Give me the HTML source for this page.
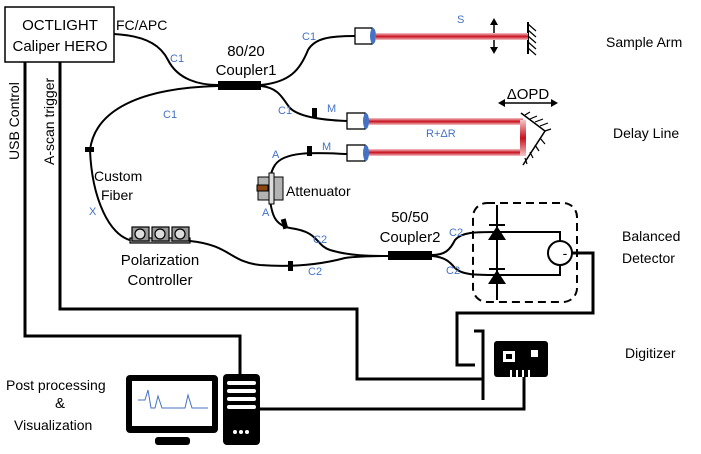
<!DOCTYPE html>
<html><head><meta charset="utf-8"><style>body{margin:0;background:#fff}svg{display:block;font-family:"Liberation Sans",sans-serif}</style></head><body>
<svg width="701" height="454" viewBox="0 0 701 454" xmlns="http://www.w3.org/2000/svg">
<defs>
<linearGradient id="beam" x1="0" y1="0" x2="0" y2="1"><stop offset="0" stop-color="#f4c7c9"/><stop offset="0.5" stop-color="#c8101e"/><stop offset="1" stop-color="#f4c7c9"/></linearGradient>
</defs>
<g fill="none" stroke="#000" stroke-width="2">
<rect x="5" y="7" width="109" height="55" stroke-width="1.5"/>
<polyline points="25,62 25,336 240,336 240,374" stroke-width="3"/>
<polyline points="60,62 60,309 357,309 357,379 483,379" stroke-width="3"/>
<polyline points="474,331 483,331 483,400" stroke-width="3"/>
<polyline points="524,377 524,409 260,409" stroke-width="3"/>
<polyline points="572,253 593,253 593,313 457,313 457,365 475,365" stroke-width="3"/>
<path d="M114,34 C150,36 162,48 168,60 C178,80 200,85 218,85"/>
<path d="M261,85 C290,82 300,70 308,50 C315,38 330,36 355,36"/>
<path d="M261,86 C280,88 283,100 290,108 C298,116 320,120 347,121"/>
<path d="M218,86 C140,88 95,110 90,150 C92,200 110,235 130,240"/>
<path d="M347,154 C320,153 285,150 275,165 C268,175 270,190 270,200 C272,215 275,225 290,228 C320,232 315,245 330,250 C350,256 370,256 388,256"/>
<path d="M190,241 C230,245 230,262 260,265 C300,268 330,262 345,258 C360,256 375,256 388,256"/>
<path d="M432,255 C445,255 450,250 455,240 C462,232 475,232 497,232"/>
<path d="M432,256 C445,257 450,262 455,268 C462,275 475,275 497,275"/>
<polyline points="497,232 560,232 560,275 497,275"/>
<line x1="497" y1="205" x2="497" y2="300"/>
<rect x="473" y="203" width="104" height="99" rx="14" stroke-dasharray="8,5"/>
<circle cx="560" cy="253" r="12" fill="#fff"/>
<line x1="528" y1="22" x2="528" y2="54"/>
<line x1="494" y1="22" x2="494" y2="50" stroke-width="1.5"/>
<polyline points="521,113 545,131 523,165" stroke-width="1.5"/>
<line x1="500" y1="103" x2="556" y2="103" stroke-width="1.5"/>
</g>
<g stroke="#000" stroke-width="1.2">
<path d="M528,24l8,7M528,30l8,7M528,36l8,7M528,42l8,7M528,48l8,7"/>
<path d="M525,115l5,-3M530,119l7,-3M535,122l8,-3M540,126l8,-3M545,131l6,-2M540,138l5,6M535,145l4,6M530,152l3,6M525,158l2,6"/>
</g>
<polygon points="494,18 490,25 498,25" /><polygon points="494,54 490,47 498,47"/>
<polygon points="498,103 505,99 505,107"/><polygon points="558,103 551,99 551,107"/>
<rect x="376" y="33" width="152" height="7" fill="url(#beam)"/>
<rect x="367" y="118" width="156" height="7" fill="url(#beam)"/>
<rect x="367" y="149" width="156" height="7" fill="url(#beam)"/>
<rect x="520" y="120" width="6" height="36" fill="url(#beam)"/>
<g fill="#fff" stroke="#000" stroke-width="1.3">
<rect x="355" y="28" width="17" height="16"/><rect x="347" y="113" width="18" height="16"/><rect x="347" y="145" width="18" height="16"/>
</g>
<g fill="#4472c4"><ellipse cx="373" cy="36" rx="3" ry="8"/><ellipse cx="366" cy="121" rx="3" ry="8"/><ellipse cx="366" cy="153" rx="3" ry="8"/></g>
<rect x="218" y="81" width="43" height="9"/><rect x="388" y="251" width="44" height="9"/>
<rect x="312" y="108" width="5" height="10"/><rect x="307" y="146" width="5" height="10"/>
<rect x="85" y="147" width="9" height="5"/>
<rect x="282" y="219" width="5" height="10" transform="rotate(-15 284 224)"/>
<rect x="288" y="261" width="5" height="10"/>
<rect x="258" y="177" width="25" height="23" fill="#b3b3b3" stroke="#000"/>
<rect x="269" y="173" width="5" height="31" fill="#ddd" stroke="#000"/>
<rect x="257" y="185" width="11" height="6" fill="#8b4513" stroke="#000"/>
<g stroke="#000" stroke-width="1.2"><rect x="130" y="238" width="60" height="5" fill="#b3b3b3"/>
<rect x="132" y="227" width="17" height="14" fill="#999"/><rect x="152" y="227" width="17" height="14" fill="#999"/><rect x="172" y="227" width="17" height="14" fill="#999"/>
<circle cx="140" cy="234" r="5" fill="#ddd"/><circle cx="160" cy="234" r="5" fill="#ddd"/><circle cx="180" cy="234" r="5" fill="#ddd"/></g>
<polygon points="488,240 506,240 497,226"/><line x1="489" y1="225" x2="505" y2="225" stroke="#000" stroke-width="2"/>
<polygon points="488,284 506,284 497,270"/><line x1="489" y1="269" x2="505" y2="269" stroke="#000" stroke-width="2"/>
<rect x="494" y="341" width="54" height="36" rx="3"/>
<rect x="503" y="351" width="12" height="11" fill="#fff"/><rect x="506" y="354" width="6" height="5"/>
<rect x="531" y="350" width="7" height="7" fill="#fff"/>
<g fill="#fff"><rect x="510" y="370" width="2" height="7"/><rect x="516" y="370" width="2" height="7"/><rect x="522" y="370" width="2" height="7"/><rect x="528" y="370" width="2" height="7"/></g>
<rect x="126" y="375" width="92" height="58" rx="4"/>
<rect x="132" y="381" width="80" height="45" fill="#fff"/>
<polyline points="138,400 145,400 148,390 151,408 155,408 158,396 162,408 185,408 188,395 192,408 208,408" fill="none" stroke="#4472c4" stroke-width="1"/>
<rect x="155" y="437" width="35" height="8" rx="3"/>
<rect x="223" y="374" width="37" height="71" rx="4"/>
<g fill="#fff"><rect x="227" y="381" width="29" height="4" rx="2"/><rect x="227" y="389" width="29" height="4" rx="2"/><rect x="227" y="397" width="29" height="4" rx="2"/><rect x="227" y="405" width="29" height="4" rx="2"/>
<circle cx="235" cy="432" r="2"/><circle cx="241" cy="432" r="2"/><circle cx="247" cy="432" r="2"/></g>
<g font-size="15" fill="#000" text-anchor="middle">
<text x="60" y="30">OCTLIGHT</text><text x="60" y="51">Caliper HERO</text>
<text x="246" y="56">80/20</text><text x="246" y="75">Coupler1</text>
<text x="410" y="222">50/50</text><text x="410" y="242">Coupler2</text>
<text x="160" y="265">Polarization</text><text x="160" y="285">Controller</text>
<text x="528" y="99">ΔOPD</text>
<text x="60" y="408">&amp;</text>
</g>
<g font-size="14" fill="#000">
<text x="116" y="30">FC/APC</text>
<text x="94" y="181">Custom</text><text x="101" y="200">Fiber</text>
<text x="286" y="196">Attenuator</text>
<text x="6" y="390">Post processing</text><text x="14" y="430">Visualization</text>
<text x="606" y="47">Sample Arm</text><text x="613" y="138">Delay Line</text>
<text x="622" y="241">Balanced</text><text x="622" y="263">Detector</text><text x="625" y="358">Digitizer</text>
<text transform="translate(19,160) rotate(-90)">USB Control</text>
<text transform="translate(54,165) rotate(-90)">A-scan trigger</text>
</g>
<text x="565" y="258" font-size="14" text-anchor="middle">-</text>
<g font-size="11" fill="#4472c4">
<text x="170" y="62">C1</text><text x="302" y="40">C1</text><text x="163" y="118">C1</text><text x="278" y="114">C1</text>
<text x="327" y="112">M</text><text x="322" y="150">M</text><text x="272" y="158">A</text><text x="262" y="216">A</text>
<text x="89" y="215">X</text><text x="457" y="23">S</text><text x="426" y="137">R+ΔR</text>
<text x="313" y="243">C2</text><text x="308" y="275">C2</text><text x="449" y="236">C2</text><text x="446" y="274">C2</text>
</g>
</svg>
</body></html>
